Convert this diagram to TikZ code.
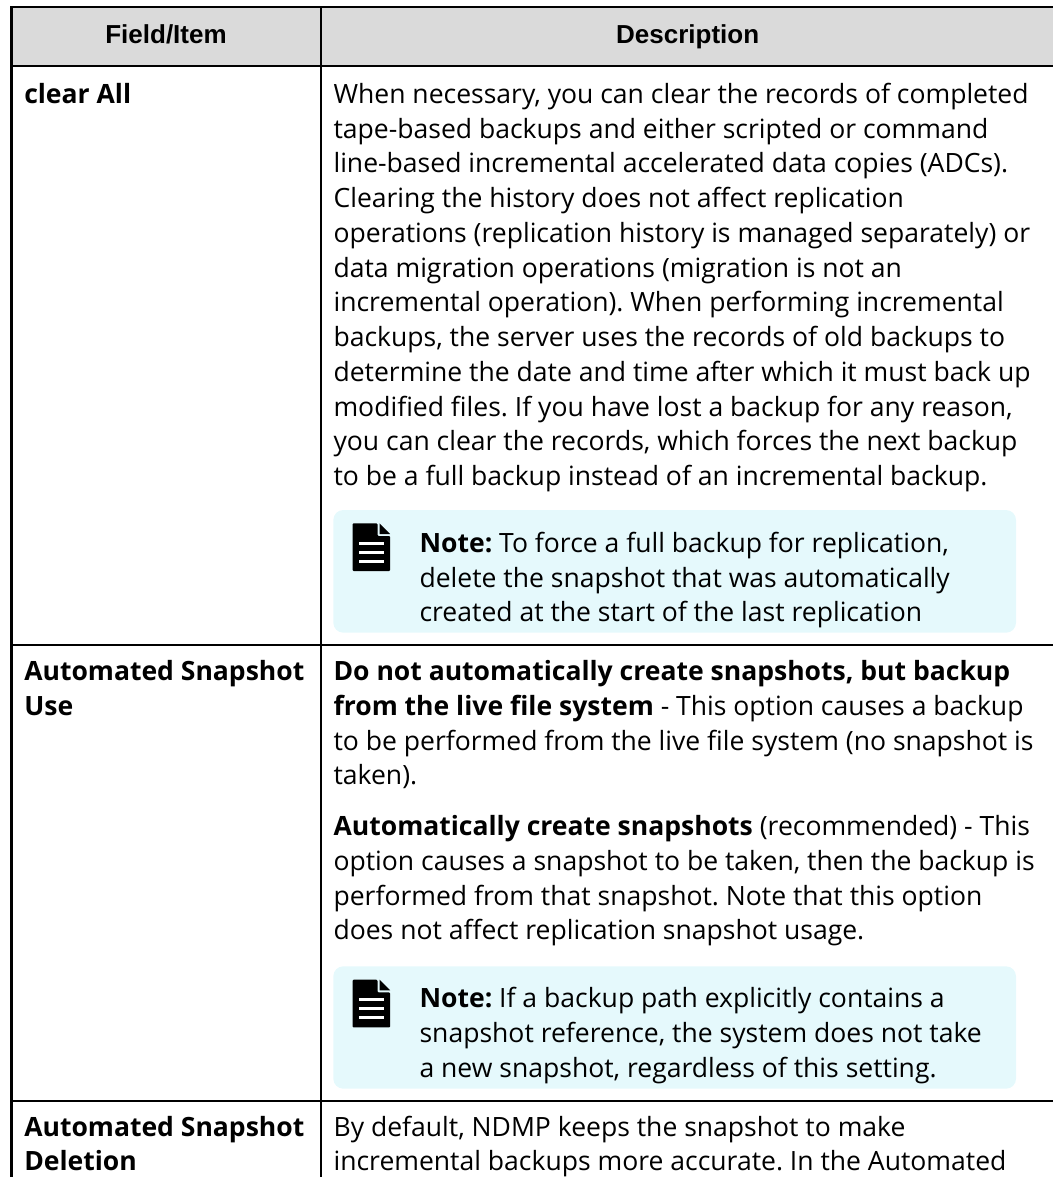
\documentclass[tikz,border=0pt]{standalone}
\usepackage{fontspec}
\setmainfont{Open Sans}
\newfontfamily\hdfont{Liberation Sans}
\definecolor{hdgray}{RGB}{218,218,218}
\definecolor{notebg}{RGB}{229,249,252}
\frenchspacing
\begin{document}
\begin{tikzpicture}[x=0.75pt,y=-0.75pt,
  body/.style={anchor=base west,inner sep=0pt,font=\fontsize{19.9pt}{26pt}\selectfont},
  hd/.style={anchor=base,inner sep=0pt,font=\hdfont\bfseries\fontsize{19.5pt}{26pt}\selectfont},
  rule/.style={line width=1.6pt,black},
  notebox/.style={fill=notebg,rounded corners=7.5pt},
  noteicon/.pic={
    \fill[black,rounded corners=0.8pt] (0,0) -- (25,0) -- (25,12.7) -- (37.7,12.7) -- (37.7,47.7) -- (0,47.7) -- cycle;
    \fill[black] (27,0) -- (27,10.7) -- (37.7,10.7) -- cycle;
    \foreach \yy in {20,29,38} \fill[white] (6,\yy-1.35) rectangle (31.7,\yy+1.35);
  }]
\useasboundingbox (0,0) rectangle (1053,1177);
% header
\fill[hdgray] (11.5,7.3) rectangle (1053,65.7);
\node[hd] (hfield) at (166,44) {Field/Item};
\node[hd] (hdesc) at (687.7,44) {Description};
% note boxes
\path[notebox] (333.3,510) rectangle (1016,632.7);
\path[notebox] (333.3,966.3) rectangle (1016,1088.7);
\pic at (352.5,523.3) {noteicon};
\pic at (352.5,979.7) {noteicon};
% table rules
\draw[rule] (11.5,7.3) -- (1053,7.3);
\draw[rule] (11.5,65.7) -- (1053,65.7);
\draw[rule] (11.5,645) -- (1053,645);
\draw[rule] (11.5,1101) -- (1053,1101);
\draw[rule] (11.5,6.5) -- (11.5,1177);
\draw[rule] (321,6.5) -- (321,1177);
% row 1
\node[body] (f1) at (24,103.3) {\textbf{clear All}};
\foreach \t [count=\i from 0] in {
  {When necessary, you can clear the records of completed},
  {tape-based backups and either scripted or command},
  {line-based incremental accelerated data copies (ADCs).},
  {Clearing the history does not affect replication},
  {operations (replication history is managed separately) or},
  {data migration operations (migration is not an},
  {incremental operation). When performing incremental},
  {backups, the server uses the records of old backups to},
  {determine the date and time after which it must back up},
  {modified files. If you have lost a backup for any reason,},
  {you can clear the records, which forces the next backup},
  {to be a full backup instead of an incremental backup.}}
  \node[body] (d1l\i) at (333.3,103.3+34.75*\i) {\t};
\foreach \t [count=\i from 0] in {
  {\textbf{Note:} To force a full backup for replication,},
  {delete the snapshot that was automatically},
  {created at the start of the last replication}}
  \node[body] (n1l\i) at (419.3,552.3+34.75*\i) {\t};
% row 2
\node[body] (f2a) at (24,680.7) {\textbf{Automated Snapshot}};
\node[body] (f2b) at (24,715.45) {\textbf{Use}};
\foreach \t [count=\i from 0] in {
  {\textbf{Do not automatically create snapshots, but backup}},
  {\textbf{from the live file system} - This option causes a backup},
  {to be performed from the live file system (no snapshot is},
  {taken).}}
  \node[body] (d2l\i) at (333.3,680.7+34.75*\i) {\t};
\foreach \t [count=\i from 0] in {
  {\textbf{Automatically create snapshots} (recommended) - This},
  {option causes a snapshot to be taken, then the backup is},
  {performed from that snapshot. Note that this option},
  {does not affect replication snapshot usage.}}
  \node[body] (d2m\i) at (333.3,835.7+34.75*\i) {\t};
\foreach \t [count=\i from 0] in {
  {\textbf{Note:} If a backup path explicitly contains a},
  {snapshot reference, the system does not take},
  {a new snapshot, regardless of this setting.}}
  \node[body] (n2l\i) at (419.3,1007.7+34.75*\i) {\t};
% row 3
\node[body] (f3a) at (24,1136) {\textbf{Automated Snapshot}};
\node[body] (f3b) at (24,1170.75) {\textbf{Deletion}};
\node[body] (d3l0) at (333.3,1136) {By default, NDMP keeps the snapshot to make};
\node[body] (d3l1) at (333.3,1170.75) {incremental backups more accurate. In the Automated};
\end{tikzpicture}
\end{document}
